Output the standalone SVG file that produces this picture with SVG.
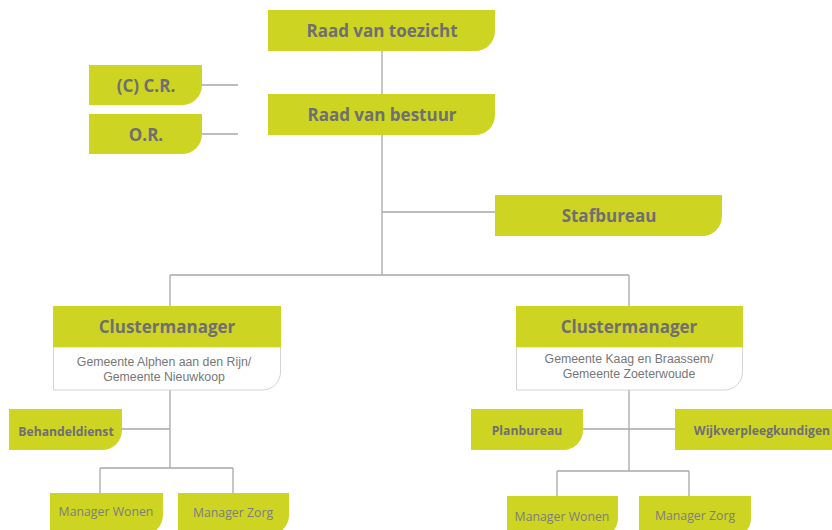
<svg xmlns="http://www.w3.org/2000/svg" width="832" height="530" viewBox="0 0 832 530">
<style>
.box{fill:#cdd422}
.white{fill:#ffffff;stroke:#d4d4d4;stroke-width:1}
.t{font-family:"Open Sans","Liberation Sans",sans-serif;font-weight:700;fill:#6f6f72;text-anchor:middle;dominant-baseline:central}
.big{font-size:17px}
.sm{font-size:12.2px}
.r{font-family:"Open Sans","Liberation Sans",sans-serif;font-weight:400;fill:#7d7d80;text-anchor:middle;dominant-baseline:central;font-size:12.3px}
.sub{font-family:"Liberation Sans",Arial,sans-serif;font-weight:400;fill:#77777a;text-anchor:middle;font-size:12.3px}
.ln{stroke:#a8a8a8;stroke-width:1.3;fill:none}
</style>
<g id="connectors">
<path class="ln" d="M382 51V275M202 85H238M202 134H238M382 212H495M170 275H629M170 275V306M629 275V306"/>
<path class="ln" d="M170 390V468M122 429H170M100 468H233M100 468V493M233 468V493"/>
<path class="ln" d="M629 390V471M583 429H675M557 471H689M557 471V496M689 471V496"/>
</g>
<g id="raad-van-toezicht"><path class="box" d="M268 10H495V31A20 20 0 0 1 475 51H268Z"/><text class="t big" x="382" y="30">Raad van toezicht</text></g>
<g id="raad-van-bestuur"><path class="box" d="M268 94H495V115A20 20 0 0 1 475 135H268Z"/><text class="t big" x="382" y="114">Raad van bestuur</text></g>
<g id="cr"><path class="box" d="M89 65H202V85A20 20 0 0 1 182 105H89Z"/><text class="t big" x="146" y="85">(C) C.R.</text></g>
<g id="or"><path class="box" d="M89 114H202V134A20 20 0 0 1 182 154H89Z"/><text class="t big" x="146" y="134">O.R.</text></g>
<g id="stafbureau"><path class="box" d="M495 195H722V216A20 20 0 0 1 702 236H495Z"/><text class="t big" x="609" y="215">Stafbureau</text></g>
<g id="clustermanager-left">
<path class="white" d="M53.5 347H280.5V372A18 18 0 0 1 262.5 390H53.5Z"/>
<rect class="box" x="53" y="306" width="228" height="41"/>
<text class="t big" x="167" y="326">Clustermanager</text>
<text class="sub" x="164" y="366">Gemeente Alphen aan den Rijn/</text>
<text class="sub" x="164" y="380.5">Gemeente Nieuwkoop</text>
</g>
<g id="clustermanager-right">
<path class="white" d="M516.5 347H742.5V372A18 18 0 0 1 724.5 390H516.5Z"/>
<rect class="box" x="516" y="306" width="227" height="41"/>
<text class="t big" x="629" y="326">Clustermanager</text>
<text class="sub" x="629" y="363">Gemeente Kaag en Braassem/</text>
<text class="sub" x="629" y="377.5">Gemeente Zoeterwoude</text>
</g>
<g id="behandeldienst"><path class="box" d="M9 409H122V430A20 20 0 0 1 102 450H9Z"/><text class="t sm" x="66" y="431">Behandeldienst</text></g>
<g id="planbureau"><path class="box" d="M471 409H583V430A20 20 0 0 1 563 450H471Z"/><text class="t sm" x="527" y="430">Planbureau</text></g>
<g id="wijkverpleegkundigen"><path class="box" d="M675 409H850V450H675Z"/><text class="t sm" x="762" y="430">Wijkverpleegkundigen</text></g>
<g id="manager-wonen-left"><path class="box" d="M50 493H163V515A20 20 0 0 1 143 535H50Z"/><text class="r" x="106" y="511">Manager Wonen</text></g>
<g id="manager-zorg-left"><path class="box" d="M178 493H289V515A20 20 0 0 1 269 535H178Z"/><text class="r" x="233" y="512">Manager Zorg</text></g>
<g id="manager-wonen-right"><path class="box" d="M507 496H618V518A20 20 0 0 1 598 538H507Z"/><text class="r" x="562" y="516">Manager Wonen</text></g>
<g id="manager-zorg-right"><path class="box" d="M639 496H751V518A20 20 0 0 1 731 538H639Z"/><text class="r" x="695" y="515">Manager Zorg</text></g>
</svg>
